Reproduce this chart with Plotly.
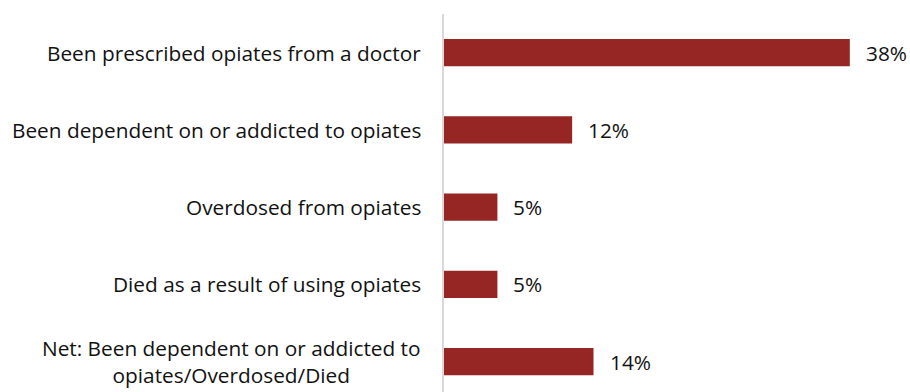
import plotly.graph_objects as go

categories = [
    "Been prescribed opiates from a doctor",
    "Been dependent on or addicted to opiates",
    "Overdosed from opiates",
    "Died as a result of using opiates",
    "Net: Been dependent on or addicted to<br>opiates/Overdosed/Died",
]
values = [38, 12, 5, 5, 14]
value_labels = ["38%", "12%", "5%", "5%", "14%"]

BAR_COLOR = "#962623"
FONT = dict(family="Open Sans, Carlito, Calibri, sans-serif", size=20.8, color="#111111")

fig = go.Figure(
    go.Bar(
        x=values,
        y=categories,
        orientation="h",
        marker=dict(color=BAR_COLOR, line=dict(width=0)),
        hoverinfo="skip",
    )
)

# category labels, centred per line, to the left of the axis
for cat in categories:
    fig.add_annotation(
        x=0, xref="paper", y=cat, yref="y",
        text=cat, showarrow=False, xanchor="right", align="center",
        xshift=-21, font=FONT,
    )

# value labels just past the bar ends
for cat, v, lab in zip(categories, values, value_labels):
    fig.add_annotation(
        x=v, xref="x", y=cat, yref="y",
        text=lab, showarrow=False, xanchor="left", xshift=14, font=FONT,
    )

fig.update_layout(
    width=910, height=392,
    margin=dict(l=444, r=10, t=14, b=0),
    paper_bgcolor="white", plot_bgcolor="white",
    bargap=0.65,
    showlegend=False,
    font=FONT,
    xaxis=dict(range=[0, 42.7], visible=False, fixedrange=True),
    yaxis=dict(
        type="category",
        range=[4.393, -0.5],
        showticklabels=False,
        showgrid=False,
        zeroline=False,
        showline=True,
        linecolor="#d9d9d9",
        linewidth=1.5,
        ticks="",
        fixedrange=True,
    ),
)

fig.write_html("out.html")
